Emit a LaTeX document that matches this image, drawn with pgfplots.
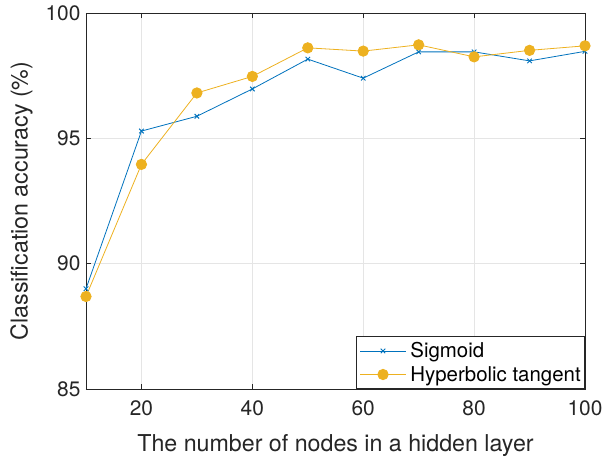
\documentclass[border=0pt]{standalone}
\usepackage{fontspec}
\setmainfont{TeX Gyre Heros}
\usepackage{pgfplots}
\pgfplotsset{compat=1.18}
\definecolor{mblue}{rgb}{0,0.447,0.741}
\definecolor{myellow}{rgb}{0.929,0.694,0.125}
\definecolor{axgray}{rgb}{0.15,0.15,0.15}
\begin{document}
\begin{tikzpicture}
\begin{axis}[
  at={(0,0)}, anchor=south west,
  scale only axis, width=499bp, height=376bp,
  xmin=10, xmax=100, ymin=85, ymax=100,
  xtick={20,40,60,80,100}, ytick={85,90,95,100},
  grid=major,
  major grid style={draw=black!10, line width=0.6bp},
  axis line style={draw=axgray, line width=0.6bp},
  tick style={draw=axgray, line width=0.6bp},
  major tick length=5bp,
  tick align=inside,
  /pgf/number format/assume math mode=true,
  tick label style={font=\fontsize{21}{25}\selectfont, text=axgray},
  xticklabel style={yshift=-8bp},
  yticklabel style={xshift=-2bp},
  label style={font=\fontsize{23.3}{27}\selectfont, text=axgray},
  xlabel={The number of nodes in a hidden layer},
  ylabel={Classification accuracy (\%)},
  xlabel style={yshift=-12bp},
  ylabel style={yshift=6bp},
  legend style={at={(1,0)}, anchor=south east, font=\fontsize{20.5}{24}\selectfont, draw=axgray, fill=white, line width=0.6bp, inner xsep=3bp, inner ysep=5bp, row sep=5bp, legend cell align=left,
    nodes={inner sep=1bp},
    /tikz/every odd column/.append style={column sep=3bp}},
  legend image code/.code={\draw[mark repeat=2, mark phase=2] plot coordinates {(0bp,0bp) (23bp,0bp) (46bp,0bp)};},
]
\addplot[color=mblue, line width=0.8bp, mark=x, mark size=3.2bp, mark options={line width=0.9bp}] coordinates {
(10,89.0) (20,95.29) (30,95.88) (40,96.97) (50,98.16) (60,97.40) (70,98.45) (80,98.45) (90,98.09) (100,98.47)};
\addlegendentry{Sigmoid}
\addplot[color=myellow, line width=0.8bp, mark=*, mark size=5.2bp, mark options={draw=myellow, fill=myellow}] coordinates {
(10,88.69) (20,93.96) (30,96.81) (40,97.47) (50,98.61) (60,98.48) (70,98.73) (80,98.25) (90,98.51) (100,98.69)};
\addlegendentry{Hyperbolic tangent}
\end{axis}
\pgfresetboundingbox
\useasboundingbox (-86bp,-73bp) rectangle (519bp,389bp);
\end{tikzpicture}
\end{document}
